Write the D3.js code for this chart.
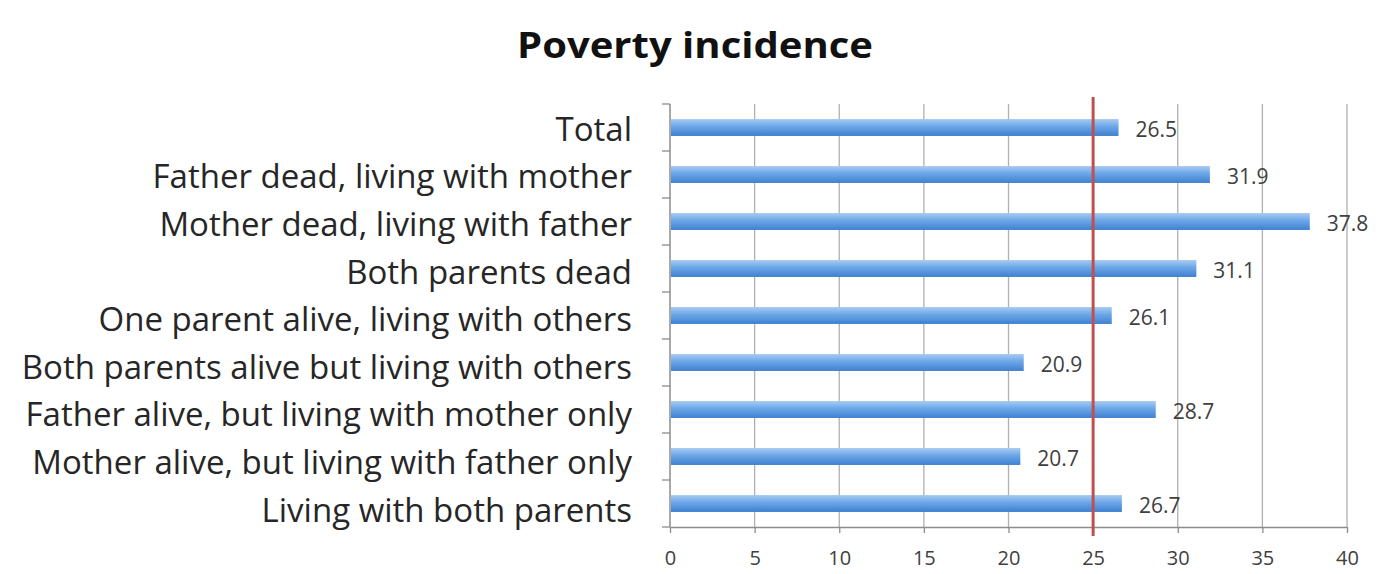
<!DOCTYPE html>
<html><head><meta charset="utf-8">
<script src="https://cdn.jsdelivr.net/npm/d3@7"></script>
<style>body{margin:0;background:#fff}svg{display:block}</style>
</head><body>
<svg id="c" width="1379" height="574"></svg>
<script>
const categories = ["Total","Father dead, living with mother","Mother dead, living with father","Both parents dead","One parent alive, living with others","Both parents alive but living with others","Father alive, but living with mother only","Mother alive, but living with father only","Living with both parents"];
const values = [26.5,31.9,37.8,31.1,26.1,20.9,28.7,20.7,26.7];
const valueLabels = ["26.5","31.9","37.8","31.1","26.1","20.9","28.7","20.7","26.7"];
const xTicks = [0,5,10,15,20,25,30,35,40];
const refValue = 25;
const title = "Poverty incidence";

const svg = d3.select("#c");
const font = "'Open Sans', 'Noto Sans', sans-serif";
const x = d3.scaleLinear().domain([0,40]).range([670,1347]);
const y = d3.scaleBand().domain(categories).range([104,527]).paddingInner(0.64).paddingOuter(0.32);
const yb = d3.scaleBand().domain(categories).range([104,527]);

const defs = svg.append("defs");
const g = defs.append("linearGradient").attr("id","bg").attr("x1",0).attr("y1",0).attr("x2",0).attr("y2",1);
g.append("stop").attr("offset","0%").attr("stop-color","#a9cbf2");
g.append("stop").attr("offset","45%").attr("stop-color","#6aa6e8");
g.append("stop").attr("offset","100%").attr("stop-color","#3f80cf");

// title
svg.append("text").attr("x",695).attr("y",58).attr("text-anchor","middle")
  .attr("font-family",font).attr("font-weight","bold").attr("font-size",35).attr("fill","#111")
  .attr("textLength",356).attr("lengthAdjust","spacingAndGlyphs").text(title);

// gridlines
svg.append("g").selectAll("line").data(xTicks.filter(d=>d>0)).join("line")
  .attr("x1",d=>x(d)).attr("x2",d=>x(d)).attr("y1",104).attr("y2",527)
  .attr("stroke","#b0b0b0").attr("stroke-width",1.3);

// x axis
const xa = svg.append("g").attr("transform","translate(0,527)")
  .call(d3.axisBottom(x).tickValues(xTicks).tickSize(6).tickPadding(18).tickSizeOuter(0));
xa.select(".domain").attr("stroke","#8c8c8c").attr("stroke-width",1.5);
xa.selectAll(".tick line").attr("stroke","#8c8c8c").attr("stroke-width",1.3);
xa.selectAll("text").attr("font-family",font).attr("font-size",20).attr("fill","#404040");

// y axis line and ticks at band boundaries
svg.append("line").attr("x1",670).attr("x2",670).attr("y1",104).attr("y2",527).attr("stroke","#8c8c8c").attr("stroke-width",1.5);
const bounds = categories.map(c=>yb(c)).concat([527]);
svg.append("g").selectAll("line").data(bounds).join("line")
  .attr("x1",662).attr("x2",670).attr("y1",d=>d).attr("y2",d=>d).attr("stroke","#8c8c8c").attr("stroke-width",1.3);

// category labels
svg.append("g").selectAll("text").data(categories).join("text")
  .attr("x",632).attr("y",(d,i)=>yb(d)+yb.bandwidth()/2+i*0.6).attr("dy","0.4em").attr("text-anchor","end")
  .attr("font-family",font).attr("font-size",33).attr("fill","#262626").text(d=>d);

// bars
svg.append("g").selectAll("rect").data(values).join("rect")
  .attr("x",x(0)+1).attr("y",(d,i)=>y(categories[i])).attr("height",y.bandwidth())
  .attr("width",d=>x(d)-x(0)-1).attr("fill","url(#bg)");

// value labels
svg.append("g").selectAll("text").data(values).join("text")
  .attr("x",d=>x(d)+17).attr("y",(d,i)=>yb(categories[i])+yb.bandwidth()/2+2).attr("dy","0.36em")
  .attr("font-family",font).attr("font-size",21).attr("fill","#404040").text((d,i)=>valueLabels[i]);

// reference line
svg.append("line").attr("x1",x(refValue)).attr("x2",x(refValue)).attr("y1",97).attr("y2",536)
  .attr("stroke","#c0504d").attr("stroke-width",3);
</script>
</body></html>
